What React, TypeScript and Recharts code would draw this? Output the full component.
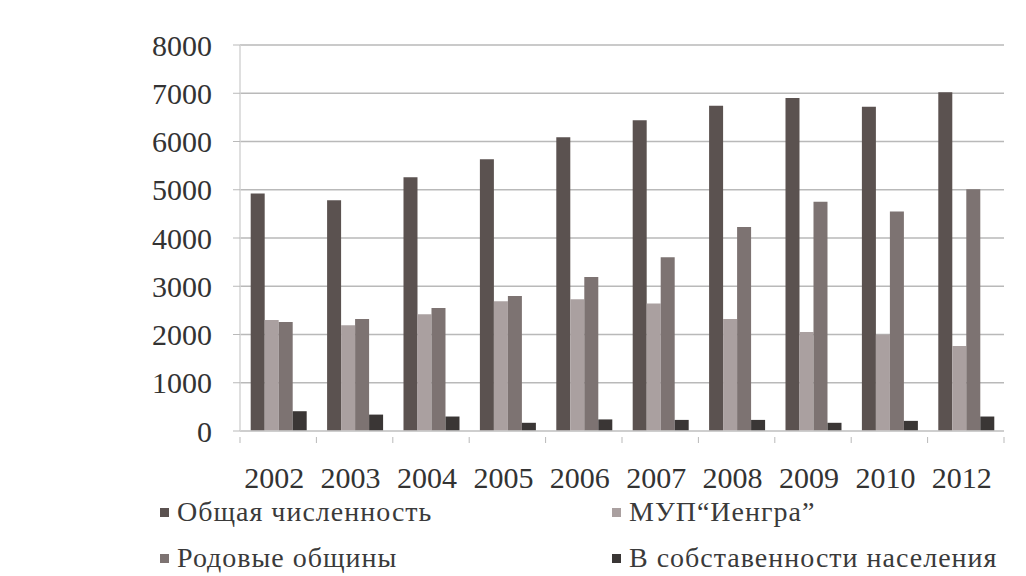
import { Bar, BarChart, CartesianGrid, Legend, XAxis, YAxis } from 'recharts'

const years = ['2002', '2003', '2004', '2005', '2006', '2007', '2008', '2009', '2010', '2012']
const total = [4920, 4780, 5260, 5630, 6090, 6440, 6740, 6900, 6720, 7020]
const mup = [2300, 2190, 2420, 2690, 2730, 2640, 2320, 2050, 2000, 1760]
const rodovye = [2260, 2320, 2550, 2800, 3190, 3600, 4230, 4750, 4550, 5010]
const sobstv = [410, 340, 300, 170, 240, 230, 230, 170, 210, 300]
const yTicks = [0, 1000, 2000, 3000, 4000, 5000, 6000, 7000, 8000]

const series = [
  { key: 'total', name: 'Общая численность', color: '#5b5250' },
  { key: 'mup', name: 'МУП“Иенгра”', color: '#aaa0a0' },
  { key: 'rodovye', name: 'Родовые общины', color: '#7d7372' },
  { key: 'sobstv', name: 'В собставенности населения', color: '#3a3635' },
]

const data = years.map((y, i) => ({
  year: y,
  total: total[i],
  mup: mup[i],
  rodovye: rodovye[i],
  sobstv: sobstv[i],
}))

const FONT = "'Liberation Serif', 'Nimbus Roman', 'DejaVu Serif', serif"

const legendPos = [
  { left: 160, top: 26 },
  { left: 612, top: 26 },
  { left: 160, top: 72 },
  { left: 612, top: 72 },
]

const LegendBox = () => (
  <div style={{ position: 'relative', width: 1026, height: 90 }}>
    {series.map((s, i) => (
      <div
        key={s.key}
        style={{
          position: 'absolute',
          left: legendPos[i].left,
          top: legendPos[i].top,
          transform: 'translateY(-50%)',
          display: 'flex',
          alignItems: 'center',
          fontFamily: FONT,
          fontSize: 28,
          lineHeight: '32px',
          letterSpacing: 1,
          color: '#3a3a3a',
          whiteSpace: 'nowrap',
        }}
      >
        <span style={{ width: 9, height: 9, background: s.color, marginRight: 8, display: 'inline-block' }} />
        {s.name}
      </div>
    ))}
  </div>
)

// year label plus the small tick marks that sit between categories
const YearTick = ({ x, y, payload, index }: any) => {
  const half = payload?.offset ?? 0
  const axisY = y - 30
  return (
    <g>
      <line x1={x - half} x2={x - half} y1={axisY} y2={axisY + 6} stroke="#b9b9b9" />
      {index === years.length - 1 && (
        <line x1={x + half} x2={x + half} y1={axisY} y2={axisY + 6} stroke="#b9b9b9" />
      )}
      <text x={x - 4} y={y} dy="0.71em" textAnchor="middle" fontFamily={FONT} fontSize={30} fill="#333">
        {payload.value}
      </text>
    </g>
  )
}

export default function App() {
  return (
    <div style={{ width: 1026, height: 576, background: '#fff', fontFamily: FONT }}>
      <style>{'body{margin:0}'}</style>
      <BarChart
        width={1026}
        height={576}
        data={data}
        margin={{ top: 45, right: 22, bottom: 0, left: 0 }}
        barCategoryGap="14%"
        barGap={0}
      >
        <CartesianGrid vertical={false} stroke="#b9b9b9" strokeWidth={1.5} />
        <XAxis
          dataKey="year"
          height={55}
          tickLine={false}
          axisLine={{ stroke: '#cfcfcf', strokeWidth: 1.5 }}
          tickMargin={30}
          interval={0}
          tick={<YearTick />}
        />
        <YAxis
          width={240}
          domain={[0, 8000]}
          ticks={yTicks}
          interval={0}
          tickSize={7}
          tickMargin={21}
          tickLine={{ stroke: '#b9b9b9' }}
          axisLine={{ stroke: '#d4d4d4', strokeWidth: 1.5 }}
          tick={{ fontFamily: FONT, fontSize: 30, fill: '#333' }}
        />
        <Legend verticalAlign="bottom" height={90} wrapperStyle={{ left: 0, width: 1026 }} content={<LegendBox />} />
        {series.map((s) => (
          <Bar key={s.key} dataKey={s.key} name={s.name} fill={s.color} isAnimationActive={false} />
        ))}
      </BarChart>
    </div>
  )
}
